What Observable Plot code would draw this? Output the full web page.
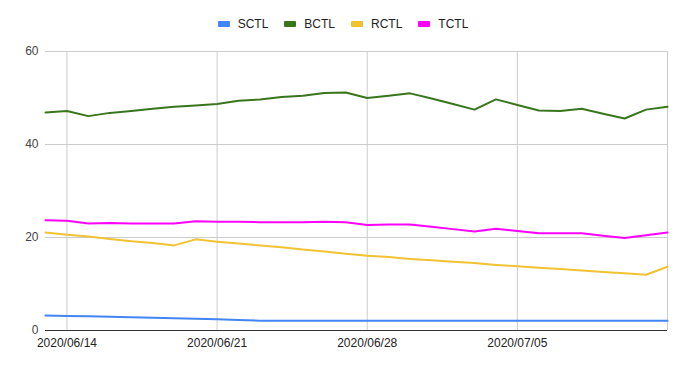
<!DOCTYPE html>
<html><head><meta charset="utf-8">
<script src="https://cdn.jsdelivr.net/npm/d3@7"></script>
<script src="https://cdn.jsdelivr.net/npm/@observablehq/plot@0.6"></script>
<style>
body{margin:0;background:#fff;font-family:"Liberation Sans",Arial,sans-serif;}
#legend{height:36px;box-sizing:border-box;padding-top:17px;display:flex;justify-content:center;align-items:flex-start;font-size:12px;line-height:14px;color:#222;}
.item{display:flex;align-items:center;margin:0 8px;}
.sw{width:12px;height:6px;border-radius:1px;margin-right:8px;}
</style></head>
<body>
<div id="legend"></div>
<div id="chart"></div>
<script>
const dates = ["2020-06-13","2020-06-14","2020-06-15","2020-06-16","2020-06-17","2020-06-18","2020-06-19","2020-06-20","2020-06-21","2020-06-22","2020-06-23","2020-06-24","2020-06-25","2020-06-26","2020-06-27","2020-06-28","2020-06-29","2020-06-30","2020-07-01","2020-07-02","2020-07-03","2020-07-04","2020-07-05","2020-07-06","2020-07-07","2020-07-08","2020-07-09","2020-07-10","2020-07-11","2020-07-12"];
const seriesNames = ["SCTL","BCTL","RCTL","TCTL"];
const seriesColors = ["#4285F4","#38761D","#F1C232","#FF00FF"];
const SCTL = [3.2,3.1,3.05,2.95,2.85,2.75,2.65,2.55,2.4,2.25,2.1,2.1,2.1,2.1,2.1,2.1,2.1,2.1,2.1,2.1,2.1,2.1,2.1,2.1,2.1,2.1,2.1,2.1,2.1,2.1];
const BCTL = [46.9,47.2,46.1,46.8,47.2,47.7,48.1,48.4,48.7,49.4,49.7,50.2,50.5,51.1,51.2,50.0,50.5,51.0,49.9,48.7,47.5,49.7,48.5,47.3,47.2,47.7,46.6,45.6,47.5,48.1];
const RCTL = [21.1,20.6,20.2,19.7,19.2,18.8,18.3,19.6,19.1,18.7,18.3,17.9,17.4,17.0,16.5,16.1,15.8,15.4,15.1,14.8,14.5,14.1,13.8,13.5,13.2,12.9,12.6,12.3,12.0,13.7];
const TCTL = [23.7,23.6,23.0,23.1,23.0,23.0,23.0,23.5,23.4,23.4,23.3,23.3,23.3,23.4,23.3,22.7,22.8,22.8,22.3,21.8,21.3,21.9,21.4,20.9,20.9,20.9,20.4,19.9,20.5,21.1];
const gridDates = ["2020-06-14","2020-06-21","2020-06-28","2020-07-05","2020-07-12"];
const labelDates = ["2020-06-14","2020-06-21","2020-06-28","2020-07-05"];
const yTicks = [0,20,40,60];

const parse = d3.utcParse("%Y-%m-%d");
const fmt = d3.utcFormat("%Y/%m/%d");
const valuesBySeries = {SCTL, BCTL, RCTL, TCTL};
const rows = [];
seriesNames.forEach(s => valuesBySeries[s].forEach((v, i) => rows.push({series: s, date: parse(dates[i]), value: v})));

const legend = document.getElementById("legend");
seriesNames.forEach((s, i) => {
  const it = document.createElement("div"); it.className = "item";
  const sw = document.createElement("div"); sw.className = "sw"; sw.style.background = seriesColors[i];
  const tx = document.createElement("span"); tx.textContent = s;
  it.appendChild(sw); it.appendChild(tx); legend.appendChild(it);
});

const chart = Plot.plot({
  width: 686, height: 333,
  marginTop: 15, marginBottom: 39, marginLeft: 45, marginRight: 19,
  style: {fontFamily: "'Liberation Sans', Arial, sans-serif", fontSize: "12px", background: "#fff"},
  x: {type: "utc", domain: [parse(dates[0]), parse(dates[dates.length-1])]},
  y: {domain: [0, 60]},
  color: {domain: seriesNames, range: seriesColors},
  marks: [
    Plot.ruleY(yTicks.slice(1), {stroke: "#cccccc", strokeWidth: 1}),
    Plot.ruleX(gridDates.map(parse), {stroke: "#cccccc", strokeWidth: 1}),
    Plot.axisY({ticks: yTicks, tickSize: 0, tickPadding: 7, label: null, fill: "#444"}),
    Plot.axisX({ticks: labelDates.map(parse), tickFormat: fmt, tickSize: 0, tickPadding: 8, label: null, fill: "#222"}),
    Plot.line(rows, {x: "date", y: "value", z: "series", stroke: "series", strokeWidth: 2}),
    Plot.ruleY([0], {stroke: "#333", strokeWidth: 1})
  ]
});
document.getElementById("chart").appendChild(chart);
</script>
</body></html>
